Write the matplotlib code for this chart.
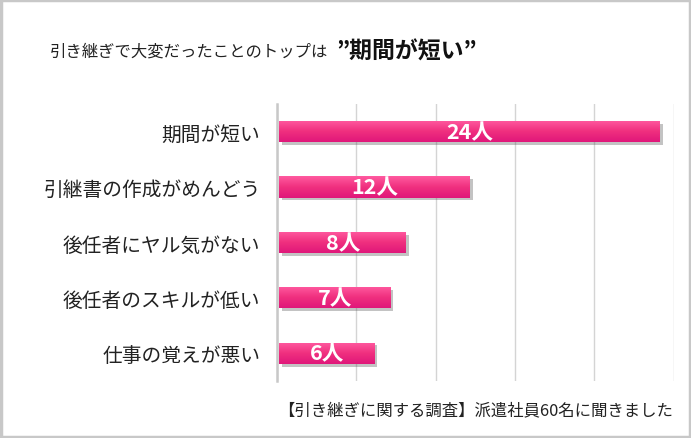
import numpy as np
import matplotlib
matplotlib.use('Agg')
import matplotlib.pyplot as plt
import matplotlib.patheffects as pe
from matplotlib.colors import LinearSegmentedColormap
from matplotlib.patches import Rectangle

plt.rcParams['font.family'] = ['Noto Sans CJK JP', 'DejaVu Sans']

categories = ['期間が短い', '引継書の作成がめんどう', '後任者にヤル気がない',
              '後任者のスキルが低い', '仕事の覚えが悪い']
counts = [24, 12, 8, 7, 6]
bar_labels = ['24人', '12人', '8人', '7人', '6人']
x_ticks = [0, 5, 10, 15, 20, 25]

fig = plt.figure(figsize=(6.91, 4.39), dpi=100)
ax = fig.add_axes([0.401, 0.130, 0.574, 0.631])

y = np.arange(len(categories))
bars = ax.barh(y, counts, height=0.38, color='#f02a82', left=0.15,
               path_effects=[pe.SimplePatchShadow(offset=(2, -2), shadow_rgbFace='#555555', alpha=0.35),
                             pe.Normal()], zorder=3)

# vertical gradient inside each bar, lighter on top
cmap = LinearSegmentedColormap.from_list('pink', ['#ff5aa0', '#f0307f', '#e0177a'])
grad = np.linspace(0, 1, 64).reshape(-1, 1)
for b in bars:
    x0, y0 = b.get_x(), b.get_y()
    w, h = b.get_width(), b.get_height()
    im = ax.imshow(grad, cmap=cmap, aspect='auto', extent=(x0, x0 + w, y0 + h, y0),
                   origin='upper', zorder=4)
    im.set_clip_path(b)

for b, lab in zip(bars, bar_labels):
    ax.text(b.get_x() + b.get_width() / 2, b.get_y() + b.get_height() / 2, lab,
            ha='center', va='center', color='white', fontsize=15.5, fontweight='bold', zorder=5)

ax.set_xlim(0, 25)
ax.set_ylim(len(categories) - 0.5, -0.5)
ax.set_xticks(x_ticks)
ax.set_xticklabels([])
ax.tick_params(axis='x', length=0)
ax.set_yticks(y)
ax.set_yticklabels(categories, fontsize=14.2, color='#222222')
ax.tick_params(axis='y', length=0, pad=12)
ax.grid(axis='x', color='#d4d4d4', linewidth=1, zorder=0)
ax.set_axisbelow(True)
for s in ['top', 'right', 'bottom']:
    ax.spines[s].set_visible(False)
ax.spines['left'].set_color('#c8c8c8')
ax.spines['left'].set_linewidth(1.8)

# title: normal part + bold part
fig.text(0.072, 0.882, '引き継ぎで大変だったことのトップは', fontsize=11.8, color='#222222',
         ha='left', va='center')
fig.text(0.486, 0.882, '”期間が短い”', fontsize=16.5, fontweight='bold', color='#111111',
         ha='left', va='center')

fig.text(0.974, 0.062, '【引き継ぎに関する調査】派遣社員60名に聞きました', fontsize=11.8,
         color='#222222', ha='right', va='center')

# outer frame
fig.patches.append(Rectangle((0.002, 0.003), 0.996, 0.994, transform=fig.transFigure,
                             fill=False, edgecolor='#c8c8c8', linewidth=2.5))

fig.savefig('out.png', dpi=100)
